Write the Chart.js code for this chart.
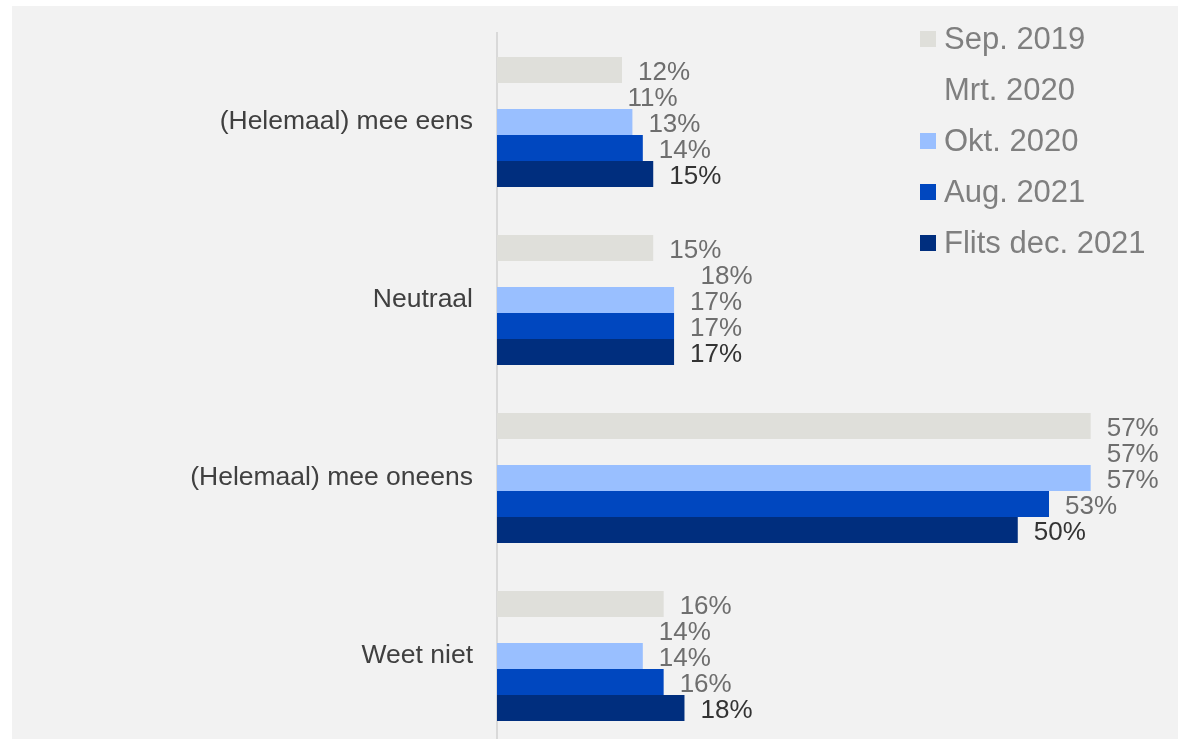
<!DOCTYPE html>
<html>
<head>
<meta charset="utf-8">
<script src="https://cdn.jsdelivr.net/npm/chart.js@4"></script>
<style>
  html, body { margin: 0; padding: 0; background: #ffffff; overflow: hidden; }
  #wrap { position: absolute; left: 12px; top: 6px; width: 1166px; height: 760px; background: #f2f2f2; }
</style>
</head>
<body>
<div id="wrap"><canvas id="grafico" width="1166" height="760"></canvas></div>
<script>
const categorias = ['(Helemaal) mee eens', 'Neutraal', '(Helemaal) mee oneens', 'Weet niet'];
const reeksen = ['Sep. 2019', 'Mrt. 2020', 'Okt. 2020', 'Aug. 2021', 'Flits dec. 2021'];
const sep2019 = [12, 15, 57, 16];
const mrt2020 = [11, 18, 57, 14];
const okt2020 = [13, 17, 57, 14];
const aug2021 = [14, 17, 53, 16];
const flits2021 = [15, 17, 50, 18];
const kleuren = ['#dfdfda', 'rgba(242,242,242,0)', '#99bfff', '#0047bf', '#002e7e'];
const labelKleuren = ['#6e6e6e', '#6e6e6e', '#6e6e6e', '#6e6e6e', '#333333'];

const fonte = '"Liberation Sans", Arial, sans-serif';

const waarden = [sep2019, mrt2020, okt2020, aug2021, flits2021];

// labels na elke balk
const labelsPlugin = {
    id: 'balkLabels',
    afterDatasetsDraw(chart) {
        const ctx = chart.ctx;
        ctx.save();
        ctx.font = '26px ' + fonte;
        ctx.textAlign = 'left';
        ctx.textBaseline = 'middle';
        chart.data.datasets.forEach((ds, i) => {
            const meta = chart.getDatasetMeta(i);
            meta.data.forEach((bar, j) => {
                ctx.fillStyle = labelKleuren[i];
                ctx.fillText(ds.data[j] + '%', bar.x + 16, bar.y + 3);
            });
        });
        ctx.restore();
    }
};

// legenda rechtsboven, over het grafiekgebied
const legendaPlugin = {
    id: 'legenda',
    afterDraw(chart) {
        const ctx = chart.ctx;
        ctx.save();
        ctx.font = '31px ' + fonte;
        ctx.textBaseline = 'middle';
        ctx.textAlign = 'left';
        chart.data.datasets.forEach((ds, i) => {
            const y = 33 + i * 51;
            ctx.fillStyle = kleuren[i];
            ctx.fillRect(908, y - 8, 16, 16);
            ctx.fillStyle = '#7f7f7f';
            ctx.fillText(ds.label, 932, y + 1);
        });
        ctx.restore();
    }
};

new Chart(document.getElementById('grafico'), {
    type: 'bar',
    data: {
        labels: categorias,
        datasets: reeksen.map((r, i) => ({
            label: r,
            data: waarden[i],
            backgroundColor: kleuren[i],
            borderWidth: 0,
            categoryPercentage: 0.73,
            barPercentage: 1
        }))
    },
    options: {
        indexAxis: 'y',
        responsive: false,
        animation: false,
        layout: { padding: { top: 27, bottom: 21, right: 4, left: 0 } },
        plugins: {
            legend: { display: false },
            tooltip: { enabled: false }
        },
        scales: {
            x: {
                display: false,
                min: 0,
                max: 65
            },
            y: {
                afterFit(scale) {
                    scale.width = 485;
                    scale.paddingTop = 0;
                    scale.paddingBottom = 0;
                },
                grid: { display: false, drawTicks: false },
                border: { display: true, color: '#d9d9d9', width: 2 },
                ticks: {
                    color: '#404040',
                    padding: 24,
                    font: { size: 26.5, family: fonte }
                }
            }
        }
    },
    plugins: [labelsPlugin, legendaPlugin]
});
</script>
</body>
</html>
